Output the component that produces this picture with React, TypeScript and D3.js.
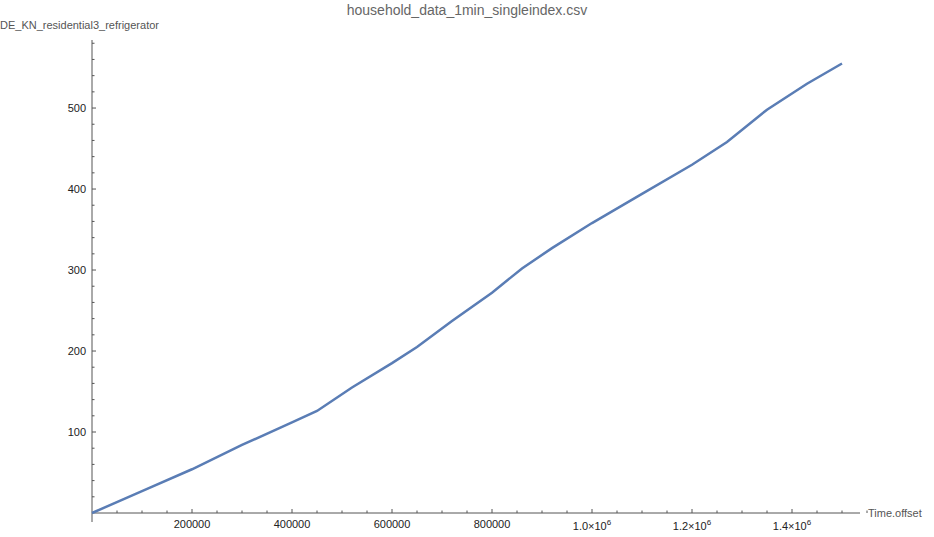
import React from 'react';
import * as d3 from 'd3';

const timeOffset = [0, 100000, 200000, 300000, 400000, 450000, 520000, 600000, 650000, 720000, 800000, 860000, 920000, 1000000, 1100000, 1200000, 1270000, 1350000, 1430000, 1500000];
const energy = [0, 27, 54, 84, 112, 126, 155, 185, 205, 237, 272, 302, 327, 358, 394, 430, 458, 498, 530, 555];
const xTicks = [200000, 400000, 600000, 800000, 1000000, 1200000, 1400000];
const yTicks = [100, 200, 300, 400, 500];

const W = 934;
const H = 537;

const fmtX = (v: number) => (v >= 1000000 ? null : String(v));

export default function App() {
  const x = d3.scaleLinear().domain([0, 1500000]).range([92, 842]);
  const y = d3.scaleLinear().domain([0, 555]).range([513, 63.5]);
  const line = d3.line<number>().x((_, i) => x(timeOffset[i])).y(d => y(d));
  const xMinor = d3.range(50000, 1550001, 50000).filter(v => v % 200000 !== 0);
  const yMinor = d3.range(20, 581, 20).filter(v => v % 100 !== 0);
  const axisCol = '#555';
  return (
    <svg width={W} height={H} style={{ position: 'absolute', left: 0, top: 0 }} fontFamily="Liberation Sans, Arial, sans-serif">
      <text x={467} y={15} textAnchor="middle" fontSize={14} fill="#666">household_data_1min_singleindex.csv</text>
      <text x={0} y={29} fontSize={11} fill="#555">DE_KN_residential3_refrigerator</text>
      <text x={868} y={517} fontSize={11} fill="#555">Time.offset</text>
      <line x1={92} x2={92} y1={40} y2={522} stroke={axisCol} />
      <line x1={92} x2={860} y1={513} y2={513} stroke={axisCol} />
      {xTicks.map(v => (
        <g key={v}>
          <line x1={x(v)} x2={x(v)} y1={513} y2={509} stroke={axisCol} />
          {fmtX(v) ? (
            <text x={x(v)} y={528} textAnchor="middle" fontSize={11} fill="#222">{fmtX(v)}</text>
          ) : (
            <text x={x(v)} y={530} textAnchor="middle" fontSize={11} fill="#222">
              {(v / 1e6).toFixed(1)}×10<tspan dy={-5} fontSize={8}>6</tspan>
            </text>
          )}
        </g>
      ))}
      {xMinor.map(v => (
        <line key={v} x1={x(v)} x2={x(v)} y1={513} y2={510.5} stroke={axisCol} />
      ))}
      {yTicks.map(v => (
        <g key={v}>
          <line x1={92} x2={96} y1={y(v)} y2={y(v)} stroke={axisCol} />
          <text x={86} y={y(v) + 4} textAnchor="end" fontSize={11} fill="#222">{v}</text>
        </g>
      ))}
      {yMinor.map(v => (
        <line key={v} x1={92} x2={94.5} y1={y(v)} y2={y(v)} stroke={axisCol} />
      ))}
      <path d={line(energy) || ''} fill="none" stroke="#5a7db5" strokeWidth={2.5} />
    </svg>
  );
}
